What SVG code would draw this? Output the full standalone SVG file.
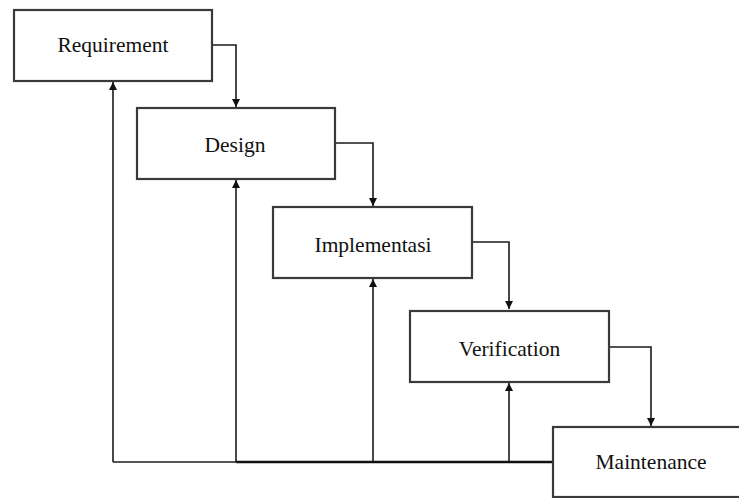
<svg xmlns="http://www.w3.org/2000/svg" width="739" height="498" viewBox="0 0 739 498">
<style>
.box{fill:#fff;stroke:#3a3a3a;stroke-width:2.2}
.lbl{font-family:"Liberation Serif","Times New Roman",serif;font-size:21.5px;fill:#111;text-anchor:middle}
.c{fill:none;stroke:#1a1a1a;stroke-width:1.6}
</style>
<defs>
<marker id="ah" viewBox="0 0 10 10" refX="10" refY="5" markerWidth="8" markerHeight="8" markerUnits="userSpaceOnUse" orient="auto">
<path d="M0,0 L10,5 L0,10 z" fill="#111"/>
</marker>
</defs>
<rect width="739" height="498" fill="#fff"/>
<g id="connectors">
<path class="c" d="M212,45 H236 V107" marker-end="url(#ah)"/>
<path class="c" d="M335,143 H373 V206" marker-end="url(#ah)"/>
<path class="c" d="M472,242 H509 V309" marker-end="url(#ah)"/>
<path class="c" d="M609,347 H651 V426" marker-end="url(#ah)"/>
<path d="M113,462 H236" fill="none" stroke="#555" stroke-width="2"/>
<path d="M236,462 H553" fill="none" stroke="#111" stroke-width="2.6"/>
<path class="c" d="M113,462 V82" marker-end="url(#ah)"/>
<path class="c" d="M236,462 V180" marker-end="url(#ah)"/>
<path class="c" d="M373,462 V279" marker-end="url(#ah)"/>
<path class="c" d="M509,462 V383" marker-end="url(#ah)"/>
</g>
<g id="requirement">
<rect class="box" x="14" y="10" width="198" height="71"/>
<text class="lbl" x="113" y="52">Requirement</text>
</g>
<g id="design">
<rect class="box" x="137" y="108" width="198" height="71"/>
<text class="lbl" x="235" y="152">Design</text>
</g>
<g id="implementasi">
<rect class="box" x="273" y="207" width="199" height="71"/>
<text class="lbl" x="373" y="252">Implementasi</text>
</g>
<g id="verification">
<rect class="box" x="410" y="311" width="199" height="71"/>
<text class="lbl" x="509.5" y="356">Verification</text>
</g>
<g id="maintenance">
<rect class="box" x="553" y="427" width="200" height="70"/>
<text class="lbl" x="651" y="469">Maintenance</text>
</g>
</svg>
